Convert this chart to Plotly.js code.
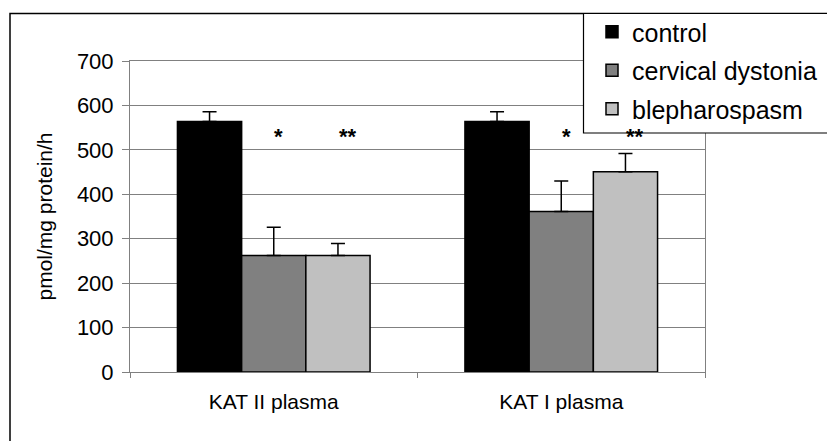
<!DOCTYPE html>
<html>
<head>
<meta charset="utf-8">
<script src="https://cdn.plot.ly/plotly-3.0.1.min.js"></script>
<style>
html,body{margin:0;padding:0;background:#fff;}
#chart{width:827px;height:441px;}
</style>
</head>
<body>
<div id="chart"></div>
<script>
var categories = ["KAT II plasma", "KAT I plasma"];
var seriesNames = ["control", "cervical dystonia", "blepharospasm"];
var controlVals = [564, 564];
var controlErr = [22, 22];
var cervicalVals = [262, 361];
var cervicalErr = [64, 69];
var blephVals = [262, 451];
var blephErr = [27, 41];
var sigCervical = ["*", "*"];
var sigBleph = ["**", "**"];
var sigLevel = 530;

var colors = ["#000000", "#808080", "#c0c0c0"];
var vals = [controlVals, cervicalVals, blephVals];
var errs = [controlErr, cervicalErr, blephErr];

var traces = seriesNames.map(function(name, i){
  return {
    type: "bar",
    name: name,
    legendgroup: "g" + i,
    x: categories,
    y: vals[i],
    marker: {color: colors[i], line: {color: "#000000", width: 1.5}},
    error_y: {type: "data", symmetric: false, array: errs[i], arrayminus: errs[i].map(function(){return 0;}),
              color: "#000000", thickness: 1.5, width: 7},
    hoverinfo: "y"
  };
});

var L = 130, R = 122, T = 61, B = 69, W = 827, H = 441;
var plotW = W - L - R, plotH = H - T - B;
var bargap = 0.33;
var barW = (plotW / categories.length) * (1 - bargap) / seriesNames.length;

var FF = "Liberation Sans, Arial, sans-serif";
var annotations = [];
categories.forEach(function(c, k){
  annotations.push({x: c, y: sigLevel, xref: "x", yref: "y", text: "<b>" + sigCervical[k] + "</b>", showarrow: false,
    xshift: 5, font: {size: 22, color: "#000", family: FF}});
  annotations.push({x: c, y: sigLevel, xref: "x", yref: "y", text: "<b>" + sigBleph[k] + "</b>", showarrow: false,
    xshift: barW + 10, font: {size: 22, color: "#000", family: FF}});
});

function px2x(p){ return (p - L) / plotW; }
function py2y(p){ return (H - B - p) / plotH; }

var layout = {
  width: W, height: H,
  margin: {l: L, r: R, t: T, b: B, pad: 0, autoexpand: false},
  paper_bgcolor: "#ffffff",
  plot_bgcolor: "#ffffff",
  font: {family: FF, color: "#000000", size: 20},
  barmode: "group",
  bargap: bargap,
  bargroupgap: 0,
  showlegend: true,
  legend: {
    x: px2x(583), y: py2y(9), xanchor: "left", yanchor: "top",
    borderwidth: 0, bgcolor: "rgba(0,0,0,0)",
    font: {size: 25, family: FF},
    traceorder: "grouped", tracegroupgap: 3, itemwidth: 30, indentation: 9
  },
  xaxis: {
    type: "category",
    showline: true, linecolor: "#808080", linewidth: 1, mirror: true,
    ticks: "outside", ticklen: 5, tickcolor: "#808080", tickson: "boundaries",
    showgrid: false, zeroline: false,
    tickfont: {size: 21},
    ticklabelstandoff: 11
  },
  yaxis: {
    range: [0, 700], dtick: 100, tick0: 0,
    showline: true, linecolor: "#808080", linewidth: 1, mirror: true,
    ticks: "outside", ticklen: 7, tickcolor: "#808080",
    showgrid: true, gridcolor: "#808080", gridwidth: 1,
    zeroline: false,
    tickfont: {size: 22},
    ticklabelstandoff: 4,
    title: {text: "pmol/mg protein/h", font: {size: 21}, standoff: 18}
  },
  annotations: annotations,
  shapes: [
    {type: "rect", xref: "paper", yref: "paper", x0: px2x(10), x1: px2x(840), y0: py2y(460), y1: py2y(13.5),
     line: {color: "#000000", width: 1.5}, fillcolor: "rgba(0,0,0,0)", layer: "below"},
    {type: "rect", xref: "paper", yref: "paper", x0: px2x(583.5), x1: px2x(840), y0: py2y(133), y1: py2y(13.5),
     line: {color: "#000000", width: 1.2}, fillcolor: "#ffffff", layer: "above"}
  ]
};

Plotly.newPlot("chart", traces, layout, {displayModeBar: false, staticPlot: true});
</script>
</body>
</html>
